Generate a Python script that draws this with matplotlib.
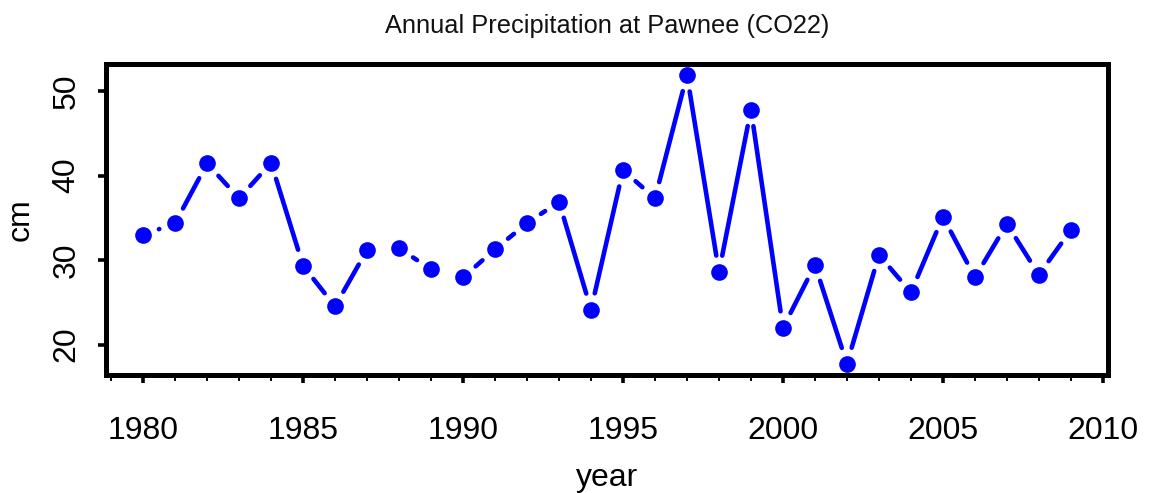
import numpy as np
import matplotlib
matplotlib.use("Agg")
import matplotlib.pyplot as plt
from matplotlib.ticker import MultipleLocator

plt.rcParams["font.family"] = ["Liberation Sans", "DejaVu Sans"]

# ── data ───────────────────────────────────────────────────────────────────────
years = list(range(1980, 2010))
precip_cm = [32.97, 34.35, 41.43, 37.30, 41.50, 29.32, 24.52, 31.20, 31.40, 28.90,
             27.94, 31.28, 34.35, 36.90, 24.13, 40.64, 37.30, 51.90, 28.57, 47.80,
             21.97, 29.43, 17.72, 30.61, 26.17, 35.13, 27.94, 34.27, 28.25, 33.56]

TITLE = "Annual Precipitation at Pawnee (CO22)"
BLUE = "#0000ff"
GAP_PX = 16.8      # R type="b": segments stop short of each point

# ── figure ─────────────────────────────────────────────────────────────────────
fig = plt.figure(figsize=(11.52, 4.93), dpi=100)
ax = fig.add_axes([106 / 1152, 1 - 375 / 493, (1108 - 106) / 1152, (375 - 63.5) / 493])

ax.set_xlim(1978.84, 2010.16)
ax.set_ylim(16.4, 53.25)

x = np.array(years, dtype=float)
y = np.array(precip_cm, dtype=float)

# points
ax.plot(x, y, "o", color=BLUE, markersize=12, markeredgewidth=0, zorder=3)

# gapped connecting segments, worked out in pixel space
pix = ax.transData.transform(np.column_stack([x, y]))
inv = ax.transData.inverted()
for p0, p1 in zip(pix[:-1], pix[1:]):
    d = p1 - p0
    dist = np.hypot(*d)
    if dist <= 2 * GAP_PX:
        continue
    u = d / dist
    a = inv.transform(p0 + u * GAP_PX)
    b = inv.transform(p1 - u * GAP_PX)
    ax.plot([a[0], b[0]], [a[1], b[1]], color=BLUE, linewidth=3.3,
            solid_capstyle="round", zorder=2)

# frame
for sp in ax.spines.values():
    sp.set_linewidth(3.6)
    sp.set_capstyle("projecting")

# ticks
ax.xaxis.set_major_locator(MultipleLocator(5))
ax.xaxis.set_minor_locator(MultipleLocator(1))
ax.yaxis.set_major_locator(MultipleLocator(10))
ax.tick_params(axis="x", which="major", direction="out", length=5.5, width=2.6,
               pad=24, labelsize=23)
ax.tick_params(axis="x", which="minor", direction="out", length=4.5, width=1.4)
ax.tick_params(axis="y", which="major", direction="out", length=5.5, width=2.6,
               pad=12, labelsize=23)
for lab in ax.get_yticklabels():
    lab.set_rotation(90)
    lab.set_va("center")

ax.set_xlabel("year", fontsize=23, labelpad=12)
ax.set_ylabel("cm", fontsize=23, labelpad=12)
ax.yaxis.set_label_coords(-70 / 1002, 0.5)
# title centred over the plot region
ax.set_title(TITLE, fontsize=18.3, color="#111111", pad=22)

fig.savefig("out.png", dpi=100)
